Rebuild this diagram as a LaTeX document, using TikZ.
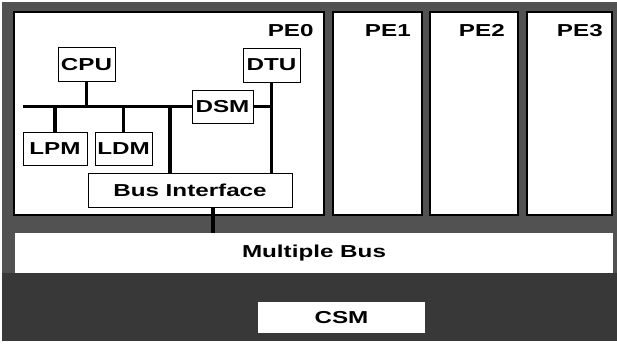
\documentclass[tikz,border=0pt]{standalone}
\usepackage{fontspec}
\newfontfamily\blockfont[FakeStretch=1.4]{Liberation Sans}
\usetikzlibrary{positioning}

\begin{document}
\begin{tikzpicture}[
  x=0.025cm, y=-0.025cm,
  unit/.style={rectangle, draw, fill=white, line width=0.6pt, inner sep=0pt,
    font=\blockfont\bfseries\fontsize{12.3}{14}\selectfont},
  small/.style={unit, minimum width=1.425cm, minimum height=0.85cm},
  pebox/.style={rectangle, draw, fill=white, line width=1.4pt, minimum height=5.075cm},
  pelabel/.style={font=\blockfont\bfseries\fontsize{12.3}{14}\selectfont, inner sep=0pt},
  bus/.style={line width=2.2pt},
]

\useasboundingbox (0,0) rectangle (617,347);

% === Background ===
\fill[black!68] (2,2) rectangle (617,341);
\fill[black!78] (2,273) rectangle (617,341);

% === Processing elements ===
\node[pebox, minimum width=7.75cm] (pe0) at (169,113.5) {};
\node[pebox, minimum width=2.225cm] (pe1) at (377.5,113.5) {};
\node[pebox, minimum width=2.2cm] (pe2) at (474,113.5) {};
\node[pebox, minimum width=2.125cm] (pe3) at (569.5,113.5) {};

\node[pelabel, below left=0.33cm and 0.28cm of pe0.north east] {PE0};
\node[pelabel, below left=0.33cm and 0.3cm of pe1.north east] {PE1};
\node[pelabel, below left=0.33cm and 0.35cm of pe2.north east] {PE2};
\node[pelabel, below left=0.33cm and 0.25cm of pe3.north east] {PE3};

% === Units inside PE0 ===
\node[small] (cpu) at (86.5,64.5) {CPU};
\node[small] (dtu) at (271.5,65) {DTU};
\node[small, minimum width=1.525cm, minimum height=0.825cm] (dsm) at (222.5,106.5) {DSM};
\node[small, minimum width=1.6cm, minimum height=0.825cm] (lpm) at (55,148.5) {LPM};
\node[small, minimum height=0.825cm] (ldm) at (123.5,148.5) {LDM};
\node[unit, minimum width=5.1cm, minimum height=0.85cm] (bif) at (190,190) {Bus Interface};

% === Shared parts ===
\node[unit, draw=none, minimum width=14.95cm, minimum height=1cm] (mbus) at (314,253) {Multiple Bus};
\node[unit, draw=none, minimum width=4.175cm, minimum height=0.775cm] (csm) at (341.5,317.5) {CSM};

% === Local bus ===
\coordinate (busL) at (23,106.5);
\coordinate (tap) at (170,106.5);
\draw[bus] (busL) -- (dsm.west);
\draw[bus] (cpu.south) -- (cpu.south |- busL);
\draw[bus] (lpm.north) -- (lpm.north |- busL);
\draw[bus] (ldm.north) -- (ldm.north |- busL);
\draw[bus] (tap) -- (tap |- bif.north);
\draw[bus] (dtu.south) -- (dtu.south |- bif.north);
\draw[bus] (dsm.east) -- (dsm.east -| dtu.south);
\draw[bus] ([xshift=0.575cm]bif.south) -- ([xshift=0.575cm]bif.south |- mbus.north);

\end{tikzpicture}
\end{document}
